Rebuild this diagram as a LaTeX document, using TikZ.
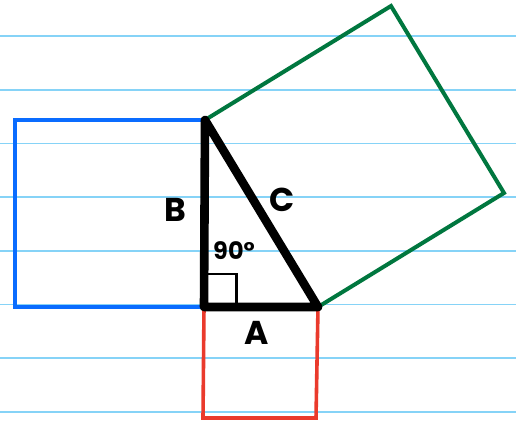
\documentclass[tikz,border=0pt]{standalone}
\usepackage{fontspec}
\setmainfont{Poppins}
\definecolor{paperline}{HTML}{86D3F7}
\definecolor{sqblue}{HTML}{0A6CFF}
\definecolor{sqgreen}{HTML}{00773F}
\definecolor{sqred}{HTML}{EA3A2C}
\begin{document}
\begin{tikzpicture}[x=1pt,y=-1pt,
  ruled/.style={paperline,line width=1.6pt},
  sqside/.style={line width=4pt,line join=miter},
  tri/.style={line width=8.6pt,line join=round,line cap=round},
  lbl/.style={font=\fontsize{33}{33}\selectfont\bfseries,inner sep=0pt},
  small/.style={font=\fontsize{24}{24}\selectfont\bfseries,inner sep=0pt}]
\useasboundingbox[fill=white] (0,0) rectangle (516,423);
% ruled paper lines
\foreach \yy in {36,89.7,143.3,197,250.7,304.3,358,411.7}
  \draw[ruled] (0,\yy) -- (516,\yy);
% triangle vertices
\coordinate (T) at (205,120);
\coordinate (O) at (204,307);
\coordinate (R) at (318,307);
% squares
\coordinate (G1) at (391,6);
\coordinate (G2) at (504,193);
\draw[sqside,sqgreen] (T) -- (G1) -- (G2) -- (R);
\coordinate (B1) at (15,120);
\coordinate (B2) at (15,307);
\draw[sqside,sqblue] (T) -- (B1) -- (B2) -- (O);
\coordinate (R1) at (203,418);
\coordinate (R2) at (316,418);
\draw[sqside,sqred,line width=3.6pt] (O) -- (R1) -- (R2) -- (R);
% right angle mark
\coordinate (M1) at (236.5,307);
\coordinate (M2) at (236.5,274);
\coordinate (M3) at (204,274);
\draw[line width=2.6pt] (M1) -- (M2) -- (M3);
% triangle
\draw[tri] (T) -- (O) -- (R) -- cycle;
% labels
\node[lbl] (labB) at (175,210) {B};
\node[lbl] (labC) at (282,200) {C};
\node[lbl] (labA) at (257,333) {A};
\node[small] (ang) at (234,251) {90°};
\end{tikzpicture}
\end{document}
